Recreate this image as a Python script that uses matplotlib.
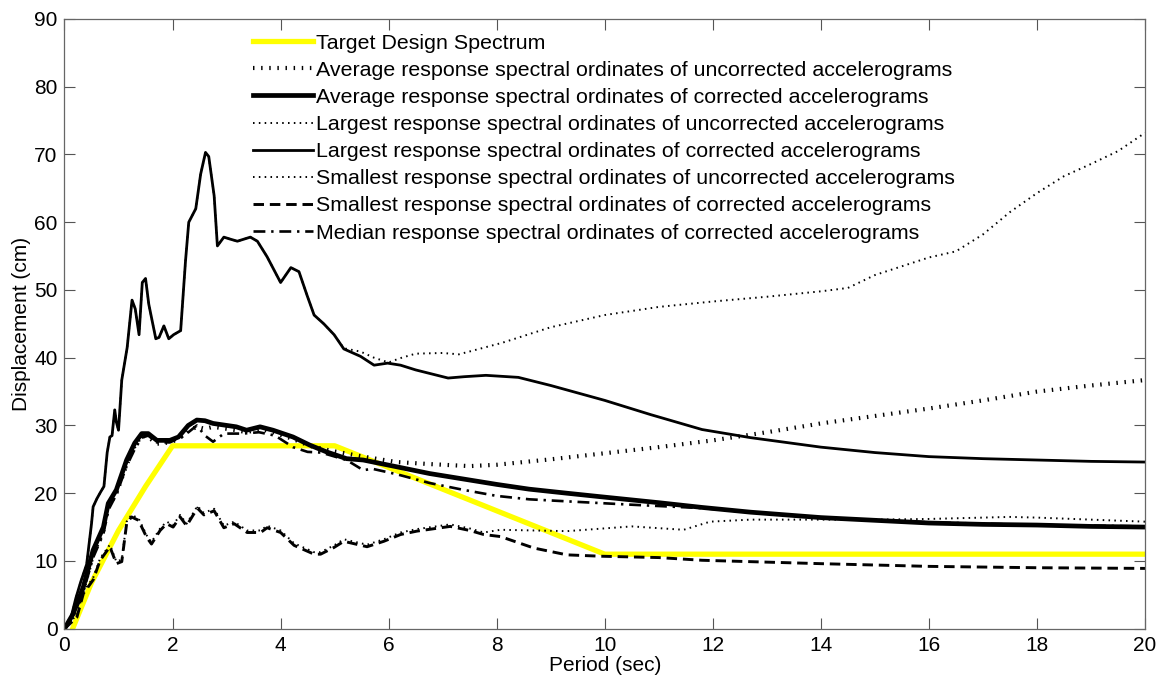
import numpy as np
import matplotlib
matplotlib.use("Agg")
import matplotlib.pyplot as plt

plt.rcParams['font.family'] = ['Liberation Sans', 'DejaVu Sans']
plt.rcParams['font.size'] = 15

# ---- data (period in sec, displacement in cm) ----
target_T = [0.15, 0.5, 1.0, 1.5, 2.0, 5.0, 10.0, 20.0]
target_D = [0.0, 6.8, 14.5, 21.0, 27.0, 27.0, 11.0, 11.0]

largest_corr_T = [0.0, 0.1, 0.21, 0.3, 0.41, 0.5, 0.53, 0.6, 0.67, 0.73, 0.79, 0.84, 0.88, 0.93,
                  0.96, 1.0, 1.06, 1.16, 1.25, 1.31, 1.38, 1.44, 1.5, 1.56, 1.69, 1.75, 1.84,
                  1.93, 2.02, 2.15, 2.24, 2.3, 2.43, 2.52, 2.61, 2.67, 2.77, 2.83, 2.95, 3.07,
                  3.2, 3.44, 3.57, 3.75, 4.0, 4.19, 4.34, 4.49, 4.62, 4.8, 4.99, 5.17, 5.48,
                  5.73, 5.98, 6.22, 6.5, 7.1, 7.4, 7.8, 8.4, 9.0, 10.0, 10.85, 11.8, 12.7,
                  14.0, 15.0, 16.0, 17.0, 18.0, 19.0, 20.0]
largest_corr_D = [0.0, 1.0, 4.5, 6.9, 9.5, 15.5, 18.0, 19.2, 20.2, 21.0, 26.0, 28.3, 28.5, 32.3,
                  30.5, 29.3, 36.7, 41.5, 48.5, 47.2, 43.4, 51.1, 51.7, 47.9, 42.8, 43.0, 44.7,
                  42.8, 43.4, 44.0, 54.3, 60.0, 62.0, 67.1, 70.3, 69.7, 63.9, 56.5, 57.8, 57.5,
                  57.2, 57.8, 57.2, 54.9, 51.1, 53.3, 52.7, 49.2, 46.3, 45.0, 43.4, 41.3, 40.2,
                  38.9, 39.2, 38.9, 38.2, 37.0, 37.2, 37.4, 37.1, 35.9, 33.7, 31.6, 29.4, 28.2,
                  26.8, 26.0, 25.4, 25.1, 24.9, 24.7, 24.6]

largest_unc_T = [5.17, 5.48, 5.73, 6.0, 6.2, 6.5, 7.0, 7.3, 8.1, 9.0, 10.0, 11.0, 12.0, 13.0,
                 14.0, 14.5, 15.0, 15.5, 16.0, 16.5, 17.0, 17.5, 18.0, 18.5, 19.0, 19.5, 20.0]
largest_unc_D = [41.4, 40.9, 40.0, 39.3, 39.9, 40.6, 40.7, 40.5, 42.2, 44.5, 46.3, 47.5, 48.3,
                 49.0, 49.8, 50.3, 52.2, 53.5, 54.8, 55.7, 58.2, 61.5, 64.3, 66.8, 68.6, 70.5, 73.2]

avg_corr_T = [0.0, 0.16, 0.35, 0.53, 0.72, 0.81, 0.96, 1.15, 1.3, 1.43, 1.55, 1.71, 1.95, 2.11,
              2.29, 2.45, 2.6, 2.75, 3.18, 3.37, 3.62, 3.86, 4.23, 4.54, 4.85, 5.22, 5.53, 6.15,
              6.76, 7.38, 8.0, 8.6, 9.3, 9.9, 11.0, 11.8, 12.7, 14.0, 15.0, 16.0, 17.0, 18.0,
              19.0, 20.0]
avg_corr_D = [0.0, 2.2, 6.2, 11.6, 15.0, 18.5, 20.5, 24.9, 27.4, 28.8, 28.8, 27.8, 27.8, 28.3,
              30.0, 30.8, 30.7, 30.3, 29.8, 29.3, 29.8, 29.3, 28.3, 27.1, 26.1, 25.1, 24.9, 23.9,
              22.9, 22.1, 21.3, 20.6, 20.0, 19.5, 18.6, 17.9, 17.2, 16.4, 16.0, 15.6, 15.4, 15.3,
              15.1, 15.0]

avg_unc_T = [0.0, 0.16, 0.35, 0.53, 0.72, 0.81, 0.96, 1.15, 1.3, 1.43, 1.55, 1.71, 1.95, 2.11,
             2.29, 2.45, 2.6, 2.75, 3.18, 3.37, 3.62, 3.86, 4.23, 4.54, 4.91, 5.53, 6.15, 6.76,
             7.5, 8.0, 9.0, 10.0, 11.0, 12.0, 13.0, 14.0, 15.0, 16.0, 17.0, 18.0, 19.0, 20.0]
avg_unc_D = [0.0, 2.0, 5.8, 11.0, 14.5, 18.0, 20.0, 24.2, 27.0, 28.5, 28.3, 27.3, 27.5, 28.0,
             29.2, 29.8, 29.5, 29.8, 29.3, 29.0, 29.5, 29.0, 28.0, 27.0, 26.3, 25.4, 24.6, 24.3,
             24.0, 24.2, 25.0, 25.9, 26.8, 27.8, 29.0, 30.3, 31.4, 32.5, 33.7, 35.0, 35.9, 36.7]

median_corr_T = [0.0, 0.16, 0.35, 0.53, 0.72, 0.81, 0.96, 1.15, 1.3, 1.43, 1.55, 1.71, 1.95, 2.2,
                 2.45, 2.6, 2.75, 2.95, 3.3, 3.6, 3.9, 4.23, 4.5, 4.75, 5.22, 5.53, 5.7, 6.15,
                 6.76, 7.38, 8.0, 8.6, 9.3, 10.5, 11.8, 12.7, 14.0, 16.0, 18.0, 20.0]
median_corr_D = [0.0, 1.8, 5.5, 10.5, 14.0, 17.5, 19.8, 24.0, 26.5, 28.2, 28.5, 27.5, 27.5, 28.4,
                 30.0, 28.5, 27.6, 28.8, 28.8, 29.0, 28.5, 26.8, 26.1, 26.0, 24.9, 23.4, 23.6,
                 22.8, 21.5, 20.5, 19.6, 19.1, 18.8, 18.3, 17.8, 17.2, 16.4, 15.7, 15.3, 15.1]

smallest_corr_T = [0.0, 0.23, 0.35, 0.53, 0.66, 0.84, 0.96, 1.06, 1.15, 1.24, 1.37, 1.52, 1.61,
                   1.77, 1.89, 2.01, 2.14, 2.26, 2.46, 2.58, 2.77, 2.95, 3.14, 3.38, 3.63, 3.75,
                   4.0, 4.25, 4.62, 4.74, 4.99, 5.17, 5.6, 5.91, 6.22, 6.52, 7.14, 7.5, 7.76,
                   8.07, 8.69, 9.3, 9.92, 11.0, 11.8, 14.0, 16.0, 18.0, 20.0]
smallest_corr_D = [0.0, 1.7, 5.2, 7.2, 10.1, 12.1, 9.6, 9.9, 15.5, 16.5, 16.0, 13.5, 12.5, 14.5,
                   15.5, 15.0, 16.5, 15.2, 17.8, 16.8, 17.4, 14.9, 15.5, 14.2, 14.2, 14.9, 14.2,
                   12.3, 11.0, 11.0, 12.0, 12.9, 12.1, 12.9, 13.9, 14.4, 15.1, 14.5, 13.9, 13.6,
                   11.9, 10.9, 10.7, 10.5, 10.1, 9.6, 9.2, 9.0, 8.9]

smallest_unc_T = [7.76, 8.07, 9.3, 10.5, 11.46, 11.95, 12.7, 14.0, 15.0, 16.0, 17.0, 17.5, 18.0,
                  19.0, 20.0]
smallest_unc_D = [14.2, 14.6, 14.4, 15.1, 14.6, 15.8, 16.1, 16.1, 16.1, 16.2, 16.4, 16.5, 16.4,
                  16.1, 15.8]

labels = ['Target Design Spectrum',
          'Average response spectral ordinates of uncorrected accelerograms',
          'Average response spectral ordinates of corrected accelerograms',
          'Largest response spectral ordinates of uncorrected accelerograms',
          'Largest response spectral ordinates of corrected accelerograms',
          'Smallest response spectral ordinates of uncorrected accelerograms',
          'Smallest response spectral ordinates of corrected accelerograms',
          'Median response spectral ordinates of corrected accelerograms']

# uncorrected curves share the early part with the corrected ones
lc_T = np.array(largest_corr_T)
lc_D = np.array(largest_corr_D)
lu_T = np.concatenate([lc_T[lc_T < 5.17], largest_unc_T])
lu_D = np.concatenate([lc_D[lc_T < 5.17], largest_unc_D])
sc_T = np.array(smallest_corr_T)
sc_D = np.array(smallest_corr_D)
su_T = np.concatenate([sc_T[sc_T < 7.76], smallest_unc_T])
su_D = np.concatenate([sc_D[sc_T < 7.76] + 0.3, smallest_unc_D])

fig = plt.figure(figsize=(11.6, 6.81), dpi=100)
ax = fig.add_axes([0.0556, 0.0768, 0.9315, 0.8953])

ax.plot(target_T, target_D, color='#ffff00', lw=3.8, label=labels[0], zorder=1)
ax.plot(avg_unc_T, avg_unc_D, color='k', lw=3.0, dashes=(0.35, 1.6),
        dash_capstyle='butt', label=labels[1])
ax.plot(avg_corr_T, avg_corr_D, color='k', lw=3.4, label=labels[2])
ax.plot(lu_T, lu_D, color='k', lw=1.4, dashes=(0.8, 2.2),
        dash_capstyle='butt', label=labels[3])
ax.plot(lc_T, lc_D, color='k', lw=2.0, label=labels[4])
ax.plot(su_T, su_D, color='k', lw=1.4, dashes=(0.8, 2.2),
        dash_capstyle='butt', label=labels[5])
ax.plot(sc_T, sc_D, color='k', lw=2.1, dashes=(3.6, 2.0), label=labels[6])
ax.plot(median_corr_T, median_corr_D, color='k', lw=1.9, dashes=(4.5, 2.2, 0.9, 2.2),
        label=labels[7])

ax.set_xlim(0, 20)
ax.set_ylim(0, 90)
ax.set_xticks(np.arange(0, 21, 2))
ax.set_yticks(np.arange(0, 91, 10))
ax.tick_params(direction='in', length=8, width=0.8, color='#555555',
               top=True, right=True, labelsize=15, pad=5)
for s in ax.spines.values():
    s.set_color('#666666')
    s.set_linewidth(0.9)

ax.set_xlabel('Period (sec)', fontsize=15, labelpad=1)
ax.set_ylabel('Displacement (cm)', fontsize=15, labelpad=2)

ax.legend(loc='upper left', bbox_to_anchor=(0.1745, 0.976), frameon=False,
          borderpad=0, borderaxespad=0, handlelength=2.8, handletextpad=0.15,
          labelspacing=0.38, fontsize=15.4)

fig.savefig('out.png', dpi=100)
